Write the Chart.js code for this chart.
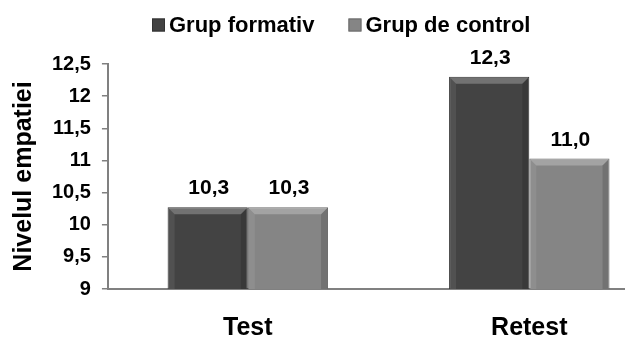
<!DOCTYPE html>
<html><head><meta charset="utf-8">
<script src="https://cdn.jsdelivr.net/npm/chart.js@4/dist/chart.umd.min.js"></script>
<style>html,body{margin:0;padding:0;background:#fff;overflow:hidden}#wrap{width:625px;height:340px}</style>
</head><body><div id="wrap"><canvas id="c" width="625" height="340"></canvas></div>
<script>
const categories = ["Test", "Retest"];
const seriesNames = ["Grup formativ", "Grup de control"];
const grupFormativ = [10.27, 12.3];
const grupControl = [10.27, 11.03];
const yTicks = [9, 9.5, 10, 10.5, 11, 11.5, 12, 12.5];

const FONT = "'Liberation Sans', Arial, sans-serif";
const fmt = v => v.toFixed(1).replace('.', ',');
const fmtTick = v => String(v).replace('.', ',');

const labelPlugin = {
  id: 'valueLabels',
  afterDatasetsDraw(chart) {
    const ctx = chart.ctx;
    ctx.save();
    ctx.font = "bold 21px " + FONT;
    ctx.fillStyle = '#000';
    ctx.textAlign = 'center';
    ctx.textBaseline = 'alphabetic';
    chart.data.datasets.forEach((ds, i) => {
      chart.getDatasetMeta(i).data.forEach((bar, j) => {
        ctx.fillText(fmt(ds.data[j].y), bar.x + 1, bar.y - 13);
      });
    });
    ctx.restore();
  }
};

const bevelPlugin = {
  id: 'bevel',
  afterDatasetsDraw(chart) {
    const ctx = chart.ctx, ca = chart.chartArea;
    ctx.save();
    ctx.beginPath();
    ctx.rect(ca.left, ca.top - 20, ca.right - ca.left, ca.bottom - ca.top + 20);
    ctx.clip();
    chart.data.datasets.forEach((ds, i) => {
      chart.getDatasetMeta(i).data.forEach(bar => {
        const l = bar.x - bar.width / 2, r = bar.x + bar.width / 2, t = bar.y, b = Math.min(bar.base, ca.bottom);
        ctx.fillStyle = 'rgba(255,255,255,0.25)';
        ctx.beginPath();
        ctx.moveTo(l + 1, t + 1); ctx.lineTo(r - 1, t + 1); ctx.lineTo(r - 7, t + 7); ctx.lineTo(l + 7, t + 7); ctx.closePath();
        ctx.fill();
        ctx.fillStyle = 'rgba(255,255,255,0.08)';
        ctx.beginPath();
        ctx.moveTo(l + 1, t + 1); ctx.lineTo(l + 7, t + 7); ctx.lineTo(l + 7, b); ctx.lineTo(l + 1, b); ctx.closePath();
        ctx.fill();
        ctx.fillStyle = 'rgba(0,0,0,0.14)';
        ctx.beginPath();
        ctx.moveTo(r - 1, t + 1); ctx.lineTo(r - 1, b); ctx.lineTo(r - 7, b); ctx.lineTo(r - 7, t + 7); ctx.closePath();
        ctx.fill();
      });
    });
    ctx.restore();
  }
};

const legendPlugin = {
  id: 'customLegend',
  afterDraw(chart) {
    const ctx = chart.ctx;
    ctx.save();
    ctx.font = "bold 22px " + FONT;
    ctx.textBaseline = 'middle';
    ctx.textAlign = 'left';
    let x = 152;
    const yMid = 25;
    chart.data.datasets.forEach(ds => {
      ctx.fillStyle = ds.backgroundColor;
      ctx.fillRect(x, yMid - 6.5, 13, 13);
      ctx.strokeStyle = ds.borderColor;
      ctx.lineWidth = 1;
      ctx.strokeRect(x + 0.5, yMid - 6, 12, 12);
      ctx.fillStyle = '#000';
      ctx.fillText(ds.label, x + 17, yMid + 1);
      x += 17 + ctx.measureText(ds.label).width + 34;
    });
    ctx.restore();
  }
};

new Chart(document.getElementById('c'), {
  type: 'bar',
  data: {
    datasets: [
      { label: seriesNames[0], data: grupFormativ.map((v, i) => ({ x: i, y: v })), backgroundColor: '#434343', borderColor: '#333333', borderWidth: 1, categoryPercentage: 0.57, barPercentage: 1 },
      { label: seriesNames[1], data: grupControl.map((v, i) => ({ x: i, y: v })), backgroundColor: '#858585', borderColor: '#6a6a6a', borderWidth: 1, categoryPercentage: 0.57, barPercentage: 1 }
    ]
  },
  options: {
    responsive: false,
    animation: false,
    layout: { padding: { left: 4, right: 0, top: 64, bottom: 0 } },
    plugins: {
      tooltip: { enabled: false },
      legend: { display: false }
    },
    scales: {
      x: {
        type: 'linear',
        min: -0.497,
        max: 1.34,
        offset: false,
        grid: { display: false, drawTicks: false },
        border: { display: true, color: '#808080', width: 2 },
        afterBuildTicks: ax => { ax.ticks = categories.map((c, i) => ({ value: i })); },
        afterFit: ax => { ax.height = 51; },
        ticks: { callback: v => categories[v], color: '#000', padding: 24, maxRotation: 0, autoSkip: false, font: { family: FONT, size: 25, weight: 'bold' } }
      },
      y: {
        min: 9, max: 12.5,
        afterBuildTicks: ax => { ax.ticks = yTicks.map(v => ({ value: v })); },
        grid: { display: true, drawOnChartArea: false, drawTicks: true, tickLength: 6, color: '#808080', lineWidth: 1.5 },
        border: { display: true, color: '#808080', width: 2 },
        ticks: { callback: v => fmtTick(v), color: '#000', padding: 11, font: { family: FONT, size: 20, weight: 'bold' } },
        title: { display: true, text: 'Nivelul empatiei', color: '#000', padding: { top: 5, bottom: 2 }, font: { family: FONT, size: 25, weight: 'bold' } }
      }
    }
  },
  plugins: [bevelPlugin, labelPlugin, legendPlugin]
});
</script>
</body></html>
